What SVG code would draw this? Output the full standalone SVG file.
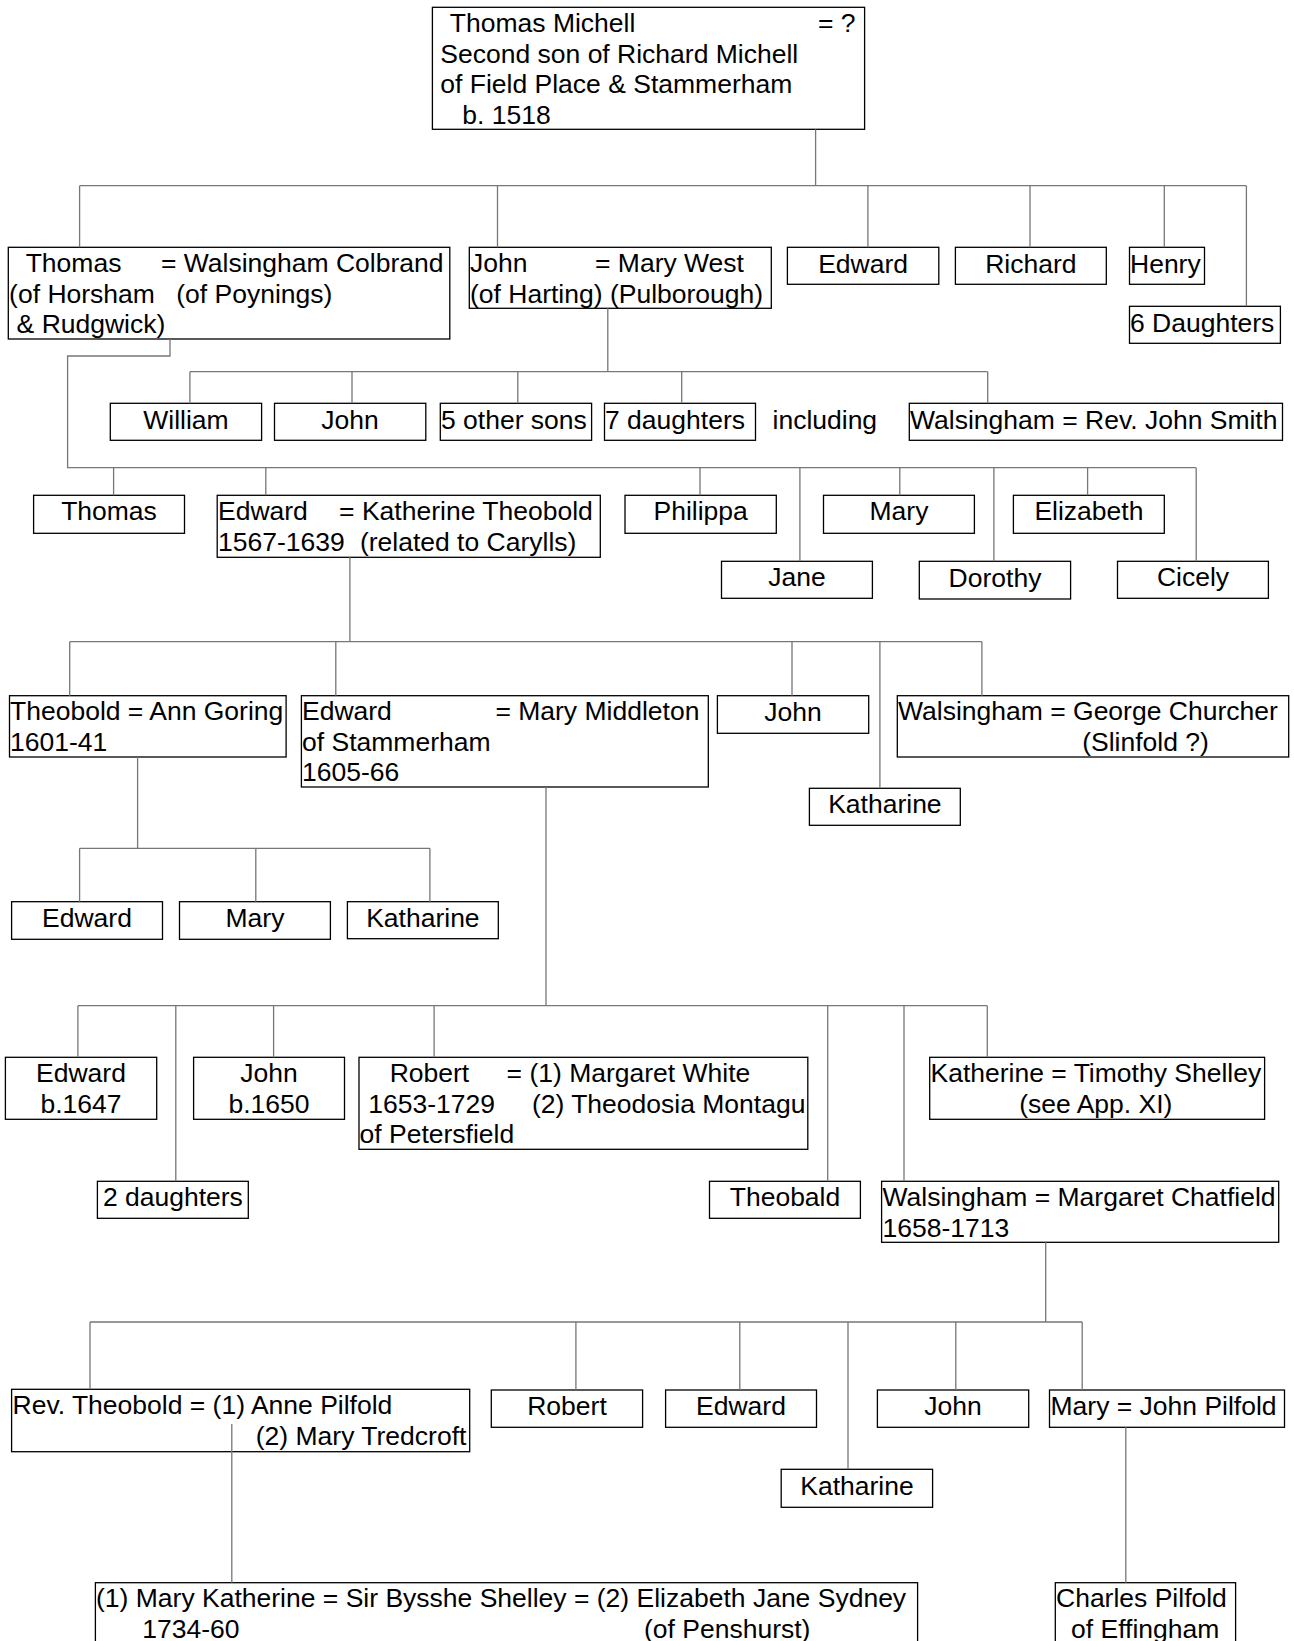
<svg xmlns="http://www.w3.org/2000/svg" width="1294" height="1641" viewBox="0 0 1294 1641">
  <style>
    .box { fill: #ffffff; stroke: #000000; stroke-width: 1.3; }
    .ln { fill: none; stroke: #777777; stroke-width: 1.3; }
    text { font-family: "Liberation Sans", Arial, sans-serif; font-size: 26.5px; fill: #000000; }
    .c { text-anchor: middle; }
  </style>
  <rect width="1294" height="1641" fill="#ffffff"/>

  <!-- generation 1 -->
  <g id="thomas-michell">
    <rect class="box" x="432.4" y="7.3" width="432.2" height="122"/>
    <text x="449.8" y="32">Thomas Michell</text>
    <text x="818" y="32">= ?</text>
    <text x="440.3" y="62.5">Second son of Richard Michell</text>
    <text x="440.3" y="93">of Field Place &amp; Stammerham</text>
    <text x="462.3" y="123.5">b. 1518</text>
  </g>

  <!-- generation 2 -->
  <g id="thomas-horsham">
    <rect class="box" x="8.3" y="247.3" width="441.5" height="91.7"/>
    <text x="25.7" y="272">Thomas</text>
    <text x="160.9" y="272">= Walsingham Colbrand</text>
    <text x="9.1" y="302.5">(of Horsham</text>
    <text x="176.2" y="302.5">(of Poynings)</text>
    <text x="16.6" y="333">&amp; Rudgwick)</text>
  </g>
  <g id="john-harting">
    <rect class="box" x="469.3" y="247.3" width="302" height="61"/>
    <text x="470" y="272">John</text>
    <text x="595" y="272">= Mary West</text>
    <text x="470" y="302.5">(of Harting) (Pulborough)</text>
  </g>
  <g id="edward-g2">
    <rect class="box" x="787.4" y="247.3" width="151.4" height="37"/>
    <text class="c" x="863.1" y="272.5">Edward</text>
  </g>
  <g id="richard-g2">
    <rect class="box" x="955.4" y="247.3" width="150.9" height="37"/>
    <text class="c" x="1030.8" y="272.5">Richard</text>
  </g>
  <g id="henry-g2">
    <rect class="box" x="1129.5" y="247.3" width="75" height="37"/>
    <text x="1130" y="272.5">Henry</text>
  </g>
  <g id="daughters-g2">
    <rect class="box" x="1129.5" y="306.3" width="150.9" height="37"/>
    <text x="1130" y="331.5">6 Daughters</text>
  </g>

  <!-- generation 3: John of Harting's children -->
  <g id="william-g3">
    <rect class="box" x="110.3" y="403.3" width="151.3" height="37"/>
    <text class="c" x="186" y="428.5">William</text>
  </g>
  <g id="john-g3">
    <rect class="box" x="274.5" y="403.3" width="151.3" height="37"/>
    <text class="c" x="350.1" y="428.5">John</text>
  </g>
  <g id="other-sons-g3">
    <rect class="box" x="440.3" y="403.3" width="151.3" height="37"/>
    <text x="441" y="428.5">5 other sons</text>
  </g>
  <g id="daughters-g3">
    <rect class="box" x="604.5" y="403.3" width="151" height="37"/>
    <text x="605" y="428.5">7 daughters</text>
  </g>
  <g id="including-note">
    <text x="772.5" y="428.5">including</text>
  </g>
  <g id="walsingham-smith">
    <rect class="box" x="909.3" y="403.3" width="373.2" height="37"/>
    <text x="910" y="428.5">Walsingham = Rev. John Smith</text>
  </g>

  <!-- generation 3: Thomas of Horsham's children -->
  <g id="thomas-g4">
    <rect class="box" x="33.6" y="495.3" width="150.9" height="38"/>
    <text class="c" x="109" y="520">Thomas</text>
  </g>
  <g id="edward-1567">
    <rect class="box" x="217.2" y="495.3" width="383.1" height="62"/>
    <text x="218" y="520">Edward</text>
    <text x="339.1" y="520">= Katherine Theobold</text>
    <text x="218" y="550.5">1567-1639</text>
    <text x="359.9" y="550.5">(related to Carylls)</text>
  </g>
  <g id="philippa">
    <rect class="box" x="625" y="495.3" width="151.3" height="38"/>
    <text class="c" x="700.7" y="520">Philippa</text>
  </g>
  <g id="jane">
    <rect class="box" x="721.5" y="561.3" width="150.9" height="37"/>
    <text class="c" x="797" y="586">Jane</text>
  </g>
  <g id="mary-g4">
    <rect class="box" x="823.5" y="495.3" width="150.9" height="38"/>
    <text class="c" x="899" y="520">Mary</text>
  </g>
  <g id="dorothy">
    <rect class="box" x="919.3" y="561.3" width="151.3" height="37.7"/>
    <text class="c" x="995" y="586.5">Dorothy</text>
  </g>
  <g id="elizabeth">
    <rect class="box" x="1013.4" y="495.3" width="150.9" height="38"/>
    <text class="c" x="1088.9" y="520">Elizabeth</text>
  </g>
  <g id="cicely">
    <rect class="box" x="1117.5" y="561.3" width="150.9" height="37"/>
    <text class="c" x="1193" y="586">Cicely</text>
  </g>

  <!-- generation 4 -->
  <g id="theobold-1601">
    <rect class="box" x="9.5" y="695.7" width="276.6" height="61.3"/>
    <text x="10" y="720">Theobold = Ann Goring</text>
    <text x="10" y="750.5">1601-41</text>
  </g>
  <g id="edward-stammerham">
    <rect class="box" x="301.4" y="695.7" width="406.9" height="91.3"/>
    <text x="302" y="720">Edward</text>
    <text x="495.4" y="720">= Mary Middleton</text>
    <text x="302" y="750.5">of Stammerham</text>
    <text x="302" y="781">1605-66</text>
  </g>
  <g id="john-g5">
    <rect class="box" x="717.4" y="695.7" width="151.3" height="37.6"/>
    <text class="c" x="793" y="720.5">John</text>
  </g>
  <g id="katharine-g5">
    <rect class="box" x="809.4" y="788.3" width="150.9" height="37"/>
    <text class="c" x="884.9" y="813">Katharine</text>
  </g>
  <g id="walsingham-churcher">
    <rect class="box" x="897.3" y="695.7" width="391.4" height="61.3"/>
    <text x="898" y="720">Walsingham = George Churcher</text>
    <text x="1082.2" y="750.5">(Slinfold ?)</text>
  </g>

  <!-- generation 5: Theobold's children -->
  <g id="edward-g6">
    <rect class="box" x="11.6" y="901.7" width="150.9" height="37.6"/>
    <text class="c" x="87" y="926.5">Edward</text>
  </g>
  <g id="mary-g6">
    <rect class="box" x="179.5" y="901.7" width="150.9" height="37.6"/>
    <text class="c" x="255" y="926.5">Mary</text>
  </g>
  <g id="katharine-g6">
    <rect class="box" x="347.4" y="901.7" width="150.9" height="37"/>
    <text class="c" x="422.9" y="926.5">Katharine</text>
  </g>

  <!-- generation 5: Edward of Stammerham's children -->
  <g id="edward-1647">
    <rect class="box" x="5.4" y="1057.3" width="151.3" height="62"/>
    <text class="c" x="81" y="1082">Edward</text>
    <text class="c" x="81" y="1112.5">b.1647</text>
  </g>
  <g id="two-daughters">
    <rect class="box" x="97.4" y="1181.3" width="150.9" height="37"/>
    <text class="c" x="172.9" y="1206">2 daughters</text>
  </g>
  <g id="john-1650">
    <rect class="box" x="193.6" y="1057.3" width="150.9" height="62"/>
    <text class="c" x="269" y="1082">John</text>
    <text class="c" x="269" y="1112.5">b.1650</text>
  </g>
  <g id="robert-1653">
    <rect class="box" x="359" y="1057.3" width="448.8" height="92"/>
    <text x="389.7" y="1082">Robert</text>
    <text x="506.6" y="1082">= (1) Margaret White</text>
    <text x="368.2" y="1112.5">1653-1729</text>
    <text x="531.9" y="1112.5">(2) Theodosia Montagu</text>
    <text x="359.5" y="1143">of Petersfield</text>
  </g>
  <g id="theobald-g6">
    <rect class="box" x="709.5" y="1181.3" width="150.9" height="37"/>
    <text class="c" x="785" y="1206">Theobald</text>
  </g>
  <g id="walsingham-chatfield">
    <rect class="box" x="881.6" y="1181.3" width="397.1" height="61"/>
    <text x="882.5" y="1206">Walsingham = Margaret Chatfield</text>
    <text x="882.5" y="1236.5">1658-1713</text>
  </g>
  <g id="katherine-shelley">
    <rect class="box" x="929.7" y="1057.3" width="334.9" height="62"/>
    <text x="930.5" y="1082">Katherine = Timothy Shelley</text>
    <text x="1019.2" y="1112.5">(see App. XI)</text>
  </g>

  <!-- generation 6 -->
  <g id="rev-theobold">
    <rect class="box" x="11.6" y="1389.3" width="458.1" height="62.4"/>
    <text x="12.5" y="1414">Rev. Theobold = (1) Anne Pilfold</text>
    <text x="255.8" y="1445">(2) Mary Tredcroft</text>
  </g>
  <g id="robert-g7">
    <rect class="box" x="491.3" y="1390" width="151.3" height="37.3"/>
    <text class="c" x="567" y="1415">Robert</text>
  </g>
  <g id="edward-g7">
    <rect class="box" x="665.6" y="1390" width="150.9" height="37.3"/>
    <text class="c" x="741" y="1415">Edward</text>
  </g>
  <g id="katharine-g7">
    <rect class="box" x="781.2" y="1469.3" width="151.4" height="38"/>
    <text class="c" x="857" y="1494.5">Katharine</text>
  </g>
  <g id="john-g7">
    <rect class="box" x="877.4" y="1390" width="151.3" height="37.3"/>
    <text class="c" x="953" y="1415">John</text>
  </g>
  <g id="mary-pilfold">
    <rect class="box" x="1049.5" y="1390" width="235" height="37.3"/>
    <text x="1050.5" y="1415">Mary = John Pilfold</text>
  </g>

  <!-- generation 7 -->
  <g id="mary-katherine-shelley">
    <rect class="box" x="95.4" y="1582.7" width="822.2" height="80"/>
    <text x="96" y="1607">(1) Mary Katherine = Sir Bysshe Shelley = (2) Elizabeth Jane Sydney</text>
    <text x="142.2" y="1637.5">1734-60</text>
    <text x="644" y="1637.5">(of Penshurst)</text>
  </g>
  <g id="charles-pilfold">
    <rect class="box" x="1055.3" y="1582.7" width="180.3" height="80"/>
    <text x="1056" y="1607">Charles Pilfold</text>
    <text x="1071" y="1637.5">of Effingham</text>
  </g>

  <!-- connectors, drawn last so the descent line inside Rev. Theobold's box stays visible -->
  <g id="connectors" class="ln">
    <!-- Thomas Michell's children -->
    <path d="M815.6 129.3V185.7 M79.6 185.7H1246.4 M79.6 185.7V247.3 M497.5 185.7V247.3 M867.9 185.7V247.3 M1030 185.7V247.3 M1164.3 185.7V247.3 M1246.4 185.7V306.3"/>
    <!-- John of Harting's children -->
    <path d="M607.8 308.3V371.7 M189.9 371.7H987.7 M189.9 371.7V403.3 M352 371.7V403.3 M517.8 371.7V403.3 M681.7 371.7V403.3 M987.7 371.7V403.3"/>
    <!-- Thomas of Horsham's children -->
    <path d="M170 339V356H67.6V467.7H1196.2 M113.6 467.7V495.3 M265.8 467.7V495.3 M700 467.7V495.3 M799.9 467.7V561.3 M899.8 467.7V495.3 M993.9 467.7V561.3 M1087.6 467.7V495.3 M1196.2 467.7V561.3"/>
    <!-- Edward 1567-1639's children -->
    <path d="M349.9 557.3V641.7 M69.7 641.7H981.9 M69.7 641.7V695.7 M335.8 641.7V695.7 M792 641.7V695.7 M879.9 641.7V788.3 M981.9 641.7V695.7"/>
    <!-- Theobold 1601-41's children -->
    <path d="M137.6 757V848.3 M79.6 848.3H429.9 M79.6 848.3V901.7 M255.8 848.3V901.7 M429.9 848.3V901.7"/>
    <!-- Edward of Stammerham's children -->
    <path d="M546 787V1005.7 M77.9 1005.7H987.3 M77.9 1005.7V1057.3 M175.8 1005.7V1181.3 M273.6 1005.7V1057.3 M434.1 1005.7V1057.3 M827.7 1005.7V1181.3 M904 1005.7V1181.3 M987.3 1005.7V1057.3"/>
    <!-- Walsingham 1658-1713's children -->
    <path d="M1045.7 1242.3V1322 M90 1322H1082.2 M90 1322V1389.3 M575.9 1322V1390 M739.8 1322V1390 M848 1322V1469.3 M955.8 1322V1390 M1082.2 1322V1390"/>
    <!-- grandchildren -->
    <path d="M231.8 1424V1582.7 M1125.8 1427.3V1582.7"/>
  </g>
</svg>
